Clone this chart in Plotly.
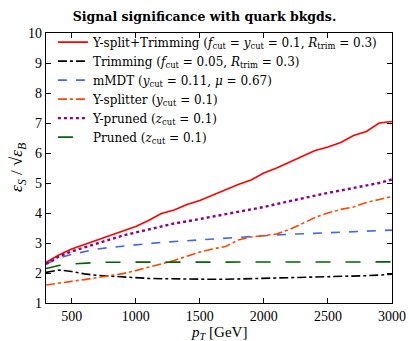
import plotly.graph_objects as go

pt = [300, 400, 500, 600, 700, 800, 900, 1000, 1100, 1200, 1300, 1400, 1500, 1600,
      1700, 1800, 1900, 2000, 2100, 2200, 2300, 2400, 2500, 2600, 2700, 2800, 2900, 3000]

ysplit_trim = [2.35, 2.6, 2.8, 2.95, 3.1, 3.25, 3.42, 3.55, 3.75, 3.98, 4.1, 4.28, 4.42, 4.6,
               4.78, 4.95, 5.1, 5.33, 5.5, 5.7, 5.88, 6.08, 6.2, 6.35, 6.58, 6.72, 7.0, 7.05]
trimming = [2.02, 2.1, 2.05, 1.97, 1.92, 1.89, 1.86, 1.84, 1.82, 1.81, 1.8, 1.8, 1.79, 1.79,
            1.79, 1.8, 1.81, 1.82, 1.82, 1.83, 1.84, 1.85, 1.87, 1.88, 1.9, 1.91, 1.93, 1.96]
mmdt = [2.3, 2.5, 2.62, 2.72, 2.8, 2.85, 2.9, 2.94, 2.98, 3.02, 3.05, 3.08, 3.1, 3.13,
        3.16, 3.2, 3.22, 3.25, 3.27, 3.29, 3.31, 3.33, 3.35, 3.37, 3.39, 3.4, 3.42, 3.43]
ysplitter = [1.6, 1.65, 1.72, 1.78, 1.85, 1.92, 1.98, 2.08, 2.18, 2.3, 2.42, 2.55, 2.7, 2.8,
             2.88, 3.1, 3.2, 3.25, 3.3, 3.45, 3.65, 3.85, 4.0, 4.12, 4.2, 4.35, 4.45, 4.55]
ypruned = [2.3, 2.55, 2.72, 2.85, 3.0, 3.12, 3.25, 3.35, 3.45, 3.55, 3.65, 3.72, 3.8, 3.88,
           3.95, 4.03, 4.12, 4.2, 4.3, 4.4, 4.5, 4.58, 4.67, 4.75, 4.85, 4.93, 5.0, 5.12]
pruned = [2.15, 2.25, 2.3, 2.33, 2.35, 2.36, 2.36, 2.36, 2.36, 2.35, 2.35, 2.35, 2.35, 2.35,
          2.35, 2.35, 2.35, 2.35, 2.35, 2.35, 2.35, 2.36, 2.36, 2.36, 2.36, 2.37, 2.37, 2.37]

x_ticks = [500, 1000, 1500, 2000, 2500, 3000]
y_ticks = [1, 2, 3, 4, 5, 6, 7, 8, 9, 10]

EQ = " = "
series = [
    (f"Y-split+Trimming (<i>f</i><sub>cut</sub>{EQ}<i>y</i><sub>cut</sub>{EQ}0.1, <i>R</i><sub>trim</sub>{EQ}0.3)",
     ysplit_trim, "#ff0000", "solid", 1.6),
    (f"Trimming (<i>f</i><sub>cut</sub>{EQ}0.05, <i>R</i><sub>trim</sub>{EQ}0.3)",
     trimming, "#000000", "dashdot", 1.6),
    (f"mMDT (<i>y</i><sub>cut</sub>{EQ}0.11, <i>μ</i>{EQ}0.67)",
     mmdt, "#4169e1", "dash", 1.6),
    (f"Y-splitter (<i>y</i><sub>cut</sub>{EQ}0.1)",
     ysplitter, "#ff4500", "dashdot", 1.6),
    (f"Y-pruned (<i>z</i><sub>cut</sub>{EQ}0.1)",
     ypruned, "#8b008b", "dot", 2.4),
    (f"Pruned (<i>z</i><sub>cut</sub>{EQ}0.1)",
     pruned, "#006400", "longdash", 1.6),
]

fig = go.Figure()
for name, ys, color, dash, w in series:
    fig.add_trace(go.Scatter(x=pt, y=ys, mode="lines", name=name,
                             line=dict(color=color, dash=dash, width=w)))

font_family = "Liberation Serif, DejaVu Serif, serif"
axis_common = dict(showgrid=False, zeroline=False, showline=True, linecolor="black",
                   linewidth=1.2, mirror="ticks", ticks="inside", ticklen=5,
                   tickcolor="black", tickfont=dict(size=14, color="black"),
                   automargin=False)

fig.update_layout(
    width=409, height=341,
    margin=dict(l=46, r=17, t=33, b=38),
    paper_bgcolor="white", plot_bgcolor="white",
    font=dict(family=font_family, color="black"),
    title=dict(text="<b>Signal significance with quark bkgds.</b>",
               x=0.5, xanchor="center", xref="container", y=0.95, yanchor="middle",
               font=dict(size=12.5, family="DejaVu Serif, serif")),
    xaxis=dict(range=[300, 3000], tickvals=x_ticks, ticktext=[str(v) for v in x_ticks],
               **axis_common),
    yaxis=dict(range=[1, 10], tickvals=y_ticks, ticktext=[str(v) for v in y_ticks],
               **axis_common),
    legend=dict(x=0.02, y=1.02, xanchor="left", yanchor="top",
                bgcolor="rgba(255,255,255,0)", borderwidth=0,
                font=dict(size=12, family="DejaVu Serif, serif"), tracegroupgap=0,
                itemwidth=30),
    showlegend=True,
    annotations=[
        dict(text="<i>p</i><sub><i>T</i></sub> [GeV]", xref="paper", yref="paper",
             x=0.5, y=0, xanchor="center", yanchor="middle", yshift=-30,
             showarrow=False, font=dict(size=15)),
        dict(text="<i>ε</i><sub><i>S</i></sub> / √<i>ε</i><sub><i>B</i></sub>",
             xref="paper", yref="paper", x=0, y=0.5, xanchor="center", yanchor="middle",
             xshift=-28, textangle=-90, showarrow=False, font=dict(size=17)),
    ],
)

fig.write_html("out.html", config={"displayModeBar": False},
               post_script="document.body.style.margin='0';document.body.style.overflow='hidden';")
